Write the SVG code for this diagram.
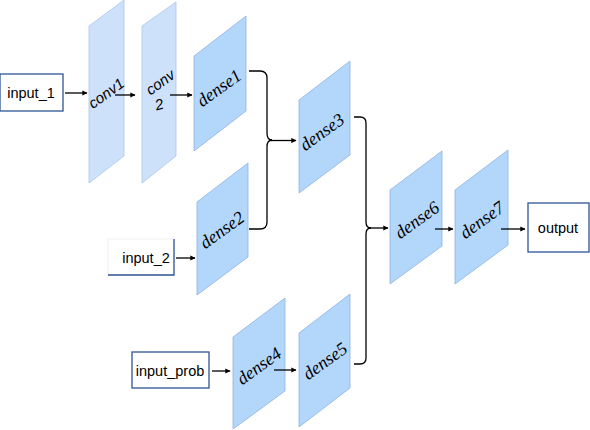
<svg xmlns="http://www.w3.org/2000/svg" width="590" height="430" viewBox="0 0 590 430">
<defs>
<marker id="ah" viewBox="0 0 10 10" refX="9" refY="5" markerWidth="4" markerHeight="4" orient="auto" markerUnits="strokeWidth">
<path d="M0,0 L10,5 L0,10 z" fill="#000"/>
</marker>
<style>
.conv{fill:#cde1fb;stroke:#a9c6ec;stroke-width:0.8}
.dense{fill:#b3d6fb;stroke:#8fb3e3;stroke-width:0.8}
.box{fill:#fff;stroke:#2f5597;stroke-width:1.3}
.lbl{font-family:"Liberation Sans",Arial,sans-serif;font-size:14.5px;fill:#000;text-anchor:middle;dominant-baseline:central}
.dl{font-family:"Liberation Serif","Times New Roman",serif;font-style:italic;font-size:18px;fill:#000;text-anchor:middle;dominant-baseline:central}
.cl{font-family:"Liberation Sans",Arial,sans-serif;font-style:italic;font-size:15px;fill:#000;text-anchor:middle;dominant-baseline:central}
.ln{fill:none;stroke:#000;stroke-width:1.3}
.ar{fill:none;stroke:#000;stroke-width:1.3;marker-end:url(#ah)}
</style>
</defs>
<rect width="590" height="430" fill="#fff"/>

<g id="input_1"><rect class="box" x="0" y="74" width="63" height="37"/><text class="lbl" x="31" y="93">input_1</text></g>
<g id="input_2"><rect x="108" y="239" width="66" height="36" fill="#fff" stroke="#f0f0f0" stroke-width="1"/><path d="M174,239 V275 H108" fill="none" stroke="#2f5597" stroke-width="1.3"/><text class="lbl" x="146" y="258">input_2</text></g>
<g id="input_prob"><rect class="box" x="132" y="352" width="77" height="36"/><text class="lbl" x="170" y="371">input_prob</text></g>
<g id="output"><rect class="box" x="528" y="203" width="61" height="49"/><text class="lbl" x="558" y="228">output</text></g>

<g id="conv1"><polygon class="conv" points="89,26 124,0 124,156 89,183"/><text class="cl" transform="translate(106,93) rotate(-36)">conv1</text></g>
<g id="conv2"><polygon class="conv" points="142,26 176,2 176,156 142,183"/><text class="cl" transform="translate(160,82) rotate(-36)">conv</text><text class="cl" transform="translate(159,104) rotate(-15)">2</text></g>
<g id="dense1"><polygon class="dense" points="194,56 246,16 246,111 194,151"/><text class="dl" transform="translate(219,88) rotate(-36)">dense1</text></g>
<g id="dense2"><polygon class="dense" points="197,202 248,163 248,257 197,295"/><text class="dl" transform="translate(222,230) rotate(-36)">dense2</text></g>
<g id="dense3"><polygon class="dense" points="299,100 350,61 350,155 299,193"/><text class="dl" transform="translate(322,132) rotate(-36)">dense3</text></g>
<g id="dense4"><polygon class="dense" points="233,337 285,298 285,391 233,429"/><text class="dl" transform="translate(259,366) rotate(-36)">dense4</text></g>
<g id="dense5"><polygon class="dense" points="299,333 350,294 350,388 299,427"/><text class="dl" transform="translate(325,361) rotate(-36)">dense5</text></g>
<g id="dense6"><polygon class="dense" points="390,190 442,151 442,246 390,284"/><text class="dl" transform="translate(417,220) rotate(-36)">dense6</text></g>
<g id="dense7"><polygon class="dense" points="455,190 508,150 508,245 455,284"/><text class="dl" transform="translate(482,220) rotate(-36)">dense7</text></g>

<g id="connectors">
<path class="ar" d="M65,93 H87" stroke-width="2"/>
<path class="ar" d="M115,95 H135" stroke-width="1.8"/>
<path class="ar" d="M170,95 H192" stroke-width="1.8"/>
<path class="ar" d="M176,258 H195"/>
<path class="ar" d="M212,371 H230"/>
<path class="ar" d="M274,370 H296"/>
<path class="ar" d="M435,229 H453"/>
<path class="ar" d="M501,229 H525"/>
<path class="ln" d="M249,71 H260 Q267,71 267,78 V133 Q267,140 272,140"/>
<path class="ln" d="M249,229 H260 Q267,229 267,222 V147 Q267,140 272,140"/>
<path class="ar" d="M270,140.5 H296"/>
<path class="ln" d="M354,117 H360 Q366,117 366,123 V222 Q366,228 371,228"/>
<path class="ln" d="M354,364 H360 Q366,364 366,358 V234 Q366,228 371,228"/>
<path class="ar" d="M369,228 H388"/>
</g>
</svg>
